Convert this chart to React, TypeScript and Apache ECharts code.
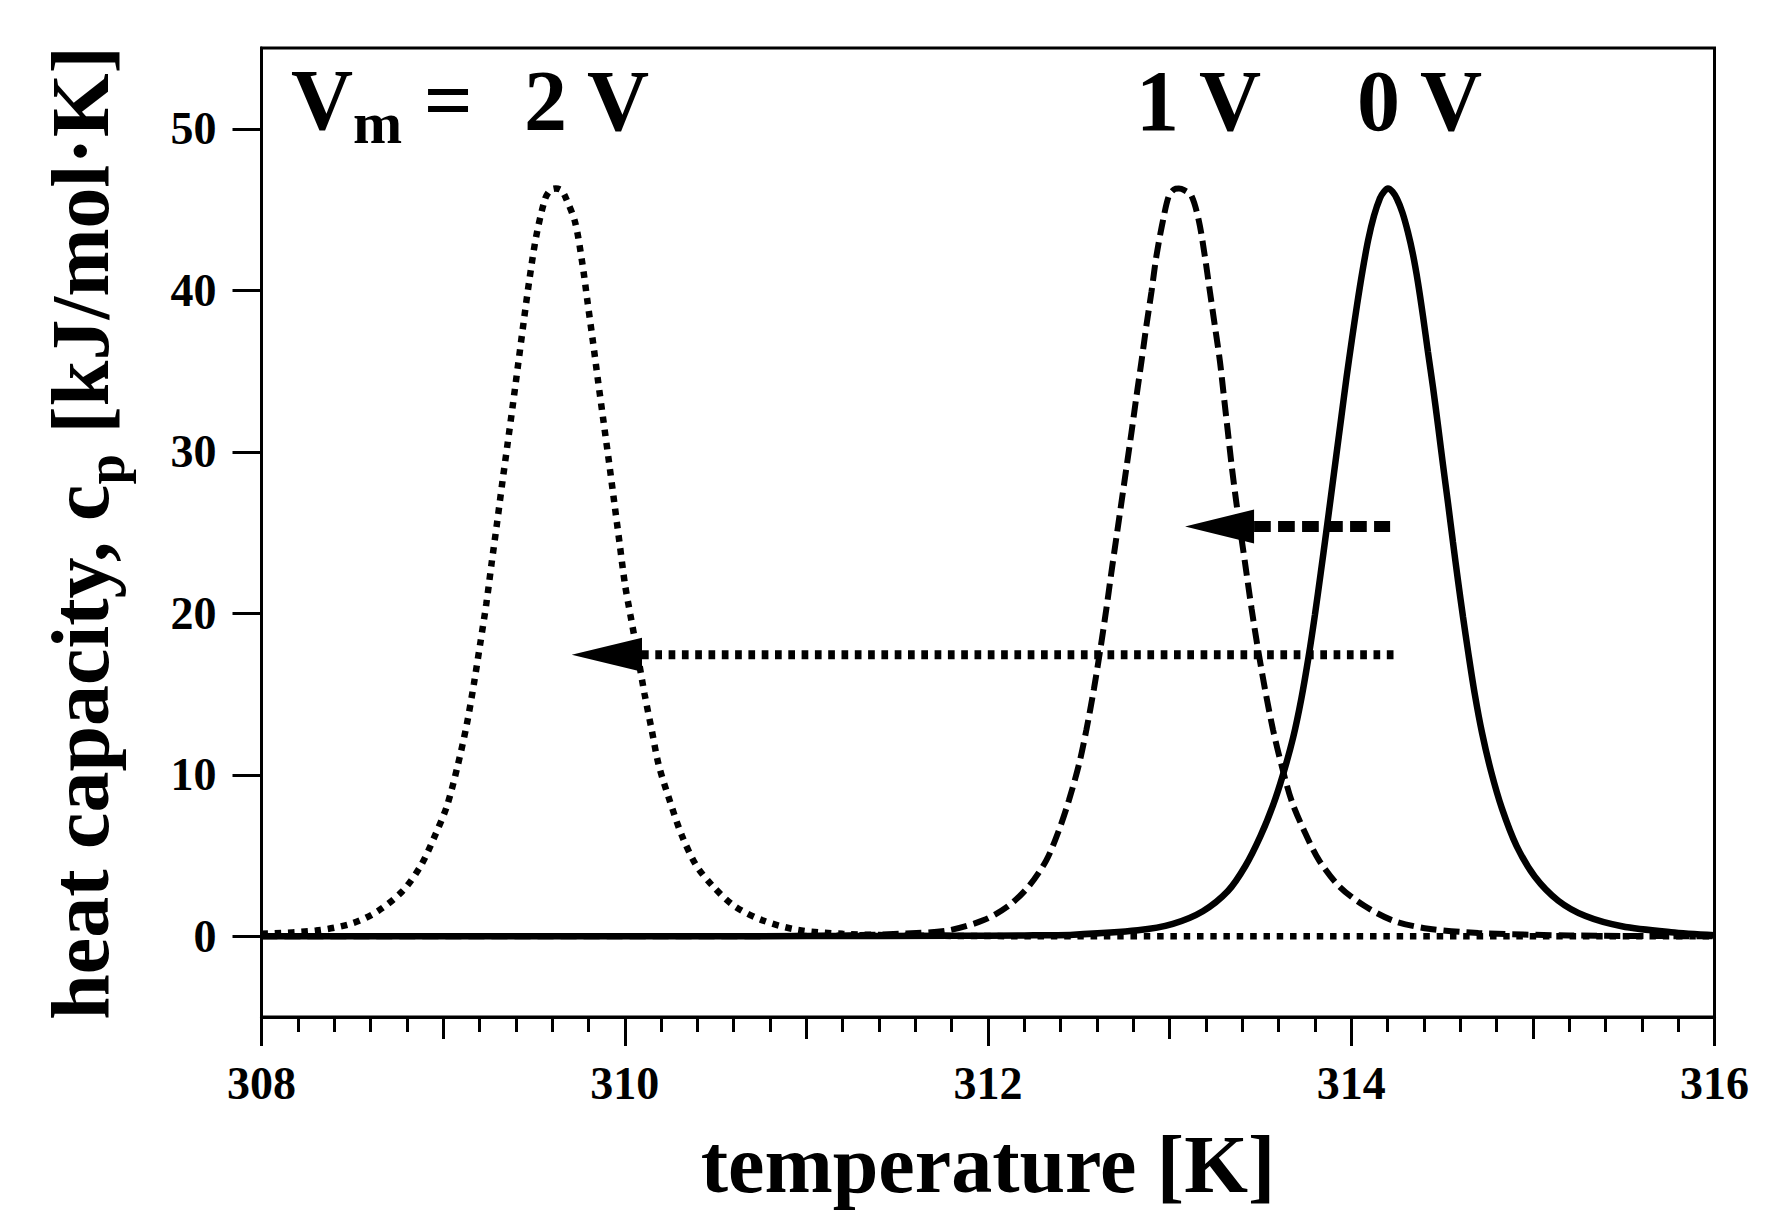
import React, { useEffect, useRef } from "react";
import * as echarts from "echarts";

// ---------- data ----------
const xMin = 308;
const xMax = 316;
const yMin = -5;
const yMax = 55;
const yTickValues = [0, 10, 20, 30, 40, 50];

// Vm = 0 V (solid)
const curve0V: [number, number][] = [
  [308, 0], [310, 0], [311, 0.01], [311.8, 0.03], [312.2, 0.05], [312.47, 0.1],
  [312.825, 0.37], [313.018, 0.77], [313.183, 1.55], [313.321, 2.8], [313.417, 4.35],
  [313.5, 6.2], [313.569, 8.1], [313.624, 10.0], [313.68, 12.3], [313.725, 14.7],
  [313.765, 17.3], [313.8, 19.9], [313.832, 22.5], [313.862, 25.0], [313.89, 27.4],
  [313.918, 29.8], [313.946, 32.2], [313.974, 34.6], [314.003, 36.9], [314.032, 39.1],
  [314.062, 41.2], [314.093, 43.1], [314.125, 44.6], [314.158, 45.7], [314.18, 46.1],
  [314.202, 46.3], [314.227, 46.1], [314.252, 45.65], [314.282, 44.8], [314.312, 43.6],
  [314.34, 42.2], [314.367, 40.5], [314.395, 38.4], [314.422, 36.2], [314.45, 34.0],
  [314.478, 31.6], [314.505, 29.2], [314.533, 26.8], [314.56, 24.4], [314.588, 22.0],
  [314.615, 19.8], [314.645, 17.5], [314.68, 15.0], [314.72, 12.6], [314.77, 10.2],
  [314.83, 7.9], [314.91, 5.6], [315.01, 3.7], [315.14, 2.2], [315.29, 1.25],
  [315.49, 0.62], [315.76, 0.25], [316, 0.06],
];

// Vm = 1 V (dashed)
const curve1V: [number, number][] = [
  [308, 0], [310.5, 0], [311.2, 0.05], [311.55, 0.17], [311.784, 0.37], [311.977, 1.0],
  [312.115, 1.9], [312.225, 3.1], [312.321, 4.7], [312.39, 6.55], [312.445, 8.4],
  [312.5, 10.6], [312.542, 12.8], [312.583, 15.3], [312.619, 17.8], [312.652, 20.3],
  [312.679, 22.5], [312.707, 24.7], [312.734, 26.8], [312.762, 29.0], [312.79, 31.2],
  [312.817, 33.4], [312.845, 35.6], [312.872, 37.8], [312.9, 39.9], [312.927, 42.1],
  [312.963, 44.3], [312.996, 45.85], [313.025, 46.25], [313.051, 46.3], [313.08, 46.2],
  [313.12, 45.85], [313.161, 44.3], [313.194, 42.1], [313.222, 39.9], [313.249, 37.8],
  [313.277, 35.6], [313.299, 33.4], [313.321, 31.2], [313.343, 29.0], [313.368, 26.8],
  [313.395, 24.7], [313.423, 22.5], [313.451, 20.3], [313.486, 17.8], [313.525, 15.3],
  [313.569, 12.8], [313.616, 10.6], [313.671, 8.4], [313.74, 6.55], [313.823, 4.7],
  [313.933, 3.1], [314.07, 1.9], [314.235, 0.95], [314.425, 0.47], [314.7, 0.2],
  [315.2, 0.05], [316, 0],
];

// Vm = 2 V (dotted)
const curve2V: [number, number][] = [
  [308, 0.15], [308.3, 0.35], [308.5, 0.8], [308.64, 1.55], [308.777, 2.8], [308.876, 4.35],
  [308.954, 6.2], [309.022, 8.1], [309.081, 10.6], [309.13, 13.1], [309.169, 15.6],
  [309.204, 18.1], [309.238, 20.6], [309.267, 23.1], [309.297, 25.6], [309.326, 28.1],
  [309.355, 30.5], [309.385, 33.0], [309.414, 35.5], [309.443, 38.0], [309.473, 40.5],
  [309.512, 43.3], [309.561, 45.65], [309.59, 46.2], [309.62, 46.3], [309.65, 46.2],
  [309.678, 45.65], [309.727, 44.2], [309.766, 41.7], [309.796, 39.2], [309.825, 36.8],
  [309.854, 34.3], [309.884, 31.8], [309.914, 29.3], [309.943, 26.8], [309.972, 24.3],
  [310.001, 21.8], [310.031, 19.9], [310.07, 17.5], [310.109, 15.0], [310.148, 12.8],
  [310.187, 10.6], [310.246, 8.45], [310.314, 6.25], [310.393, 4.4], [310.481, 3.15],
  [310.6, 1.9], [310.755, 1.0], [310.95, 0.4], [311.2, 0.15], [311.6, 0.04],
  [312.5, 0], [316, 0],
];

// arrows: shaft [start, end] and heads [tipT, value, baseT]
const arrow1VShaft: [number, number][] = [[313.465, 25.37], [314.214, 25.37]];
const arrow2VShaft: [number, number][] = [[310.095, 17.43], [314.236, 17.43]];
const arrowHeads: [number, number, number][] = [
  [313.085, 25.37, 313.465],
  [309.708, 17.43, 310.095],
];

// texts
const xTitle = "temperature [K]";
const yTitleMain = "heat capacity, c";
const yTitleSub = "p";
const yTitleEnd = " [kJ/mol·K]";
const vmMain = "V";
const vmSub = "m";
const vmEq = " =";
const label2V = "2 V";
const label1V = "1 V";
const label0V = "0 V";

const FONT = "'Liberation Serif', 'Times New Roman', serif";

export default function App() {
  const ref = useRef<HTMLDivElement>(null);

  useEffect(() => {
    if (!ref.current) return;
    const chart = echarts.init(ref.current, undefined, { renderer: "svg" });

    const axisLabelStyle = {
      color: "#000",
      fontSize: 46,
      lineHeight: 46,
      fontWeight: "bold" as const,
      fontFamily: FONT,
    };
    const black3 = { color: "#000", width: 3 };

    const option: any = {
      animation: false,
      backgroundColor: "#fff",
      grid: {
        left: 261.5,
        top: 48,
        width: 1453,
        height: 969,
        show: true,
        borderColor: "#000",
        borderWidth: 3,
        backgroundColor: "transparent",
        containLabel: false,
      },
      xAxis: [
        {
          type: "value",
          min: xMin,
          max: xMax,
          interval: 2,
          position: "bottom",
          axisLine: { show: true, onZero: false, lineStyle: black3 },
          axisTick: { show: true, inside: false, length: 29, lineStyle: black3 },
          minorTick: { show: true, splitNumber: 10, length: 15, lineStyle: black3 },
          splitLine: { show: false },
          minorSplitLine: { show: false },
          axisLabel: { ...axisLabelStyle, margin: 43 },
        },
        {
          type: "value",
          min: xMin,
          max: xMax,
          interval: 1,
          position: "bottom",
          axisLine: { show: false, onZero: false },
          axisTick: { show: true, inside: false, length: 22, lineStyle: black3 },
          splitLine: { show: false },
          axisLabel: { show: false },
        },
      ],
      yAxis: {
        type: "value",
        min: yMin,
        max: yMax,
        position: "left",
        axisLine: { show: true, onZero: false, lineStyle: black3 },
        axisTick: {
          show: true,
          inside: false,
          length: 29,
          lineStyle: black3,
          customValues: yTickValues,
        },
        splitLine: { show: false },
        axisLabel: { ...axisLabelStyle, margin: 45, customValues: yTickValues },
      },
      series: [
        {
          name: "0 V",
          type: "line",
          data: curve0V,
          smooth: 0.3,
          symbol: "none",
          silent: true,
          lineStyle: { color: "#000", width: 6.5, type: "solid" },
          z: 3,
        },
        {
          name: "1 V",
          type: "line",
          data: curve1V,
          smooth: 0.3,
          symbol: "none",
          silent: true,
          lineStyle: { color: "#000", width: 6, type: [16, 7] },
          z: 3,
        },
        {
          name: "2 V",
          type: "line",
          data: curve2V,
          smooth: 0.3,
          symbol: "none",
          silent: true,
          lineStyle: { color: "#000", width: 6.5, type: [6.5, 6.8] },
          z: 3,
        },
        {
          name: "arrow 1V",
          type: "line",
          data: arrow1VShaft,
          symbol: "none",
          silent: true,
          lineStyle: { color: "#000", width: 11, type: [16.7, 7.3], cap: "butt" },
          z: 4,
        },
        {
          name: "arrow 2V",
          type: "line",
          data: arrow2VShaft,
          symbol: "none",
          silent: true,
          lineStyle: { color: "#000", width: 9, type: [6.7, 6.6], cap: "butt" },
          z: 4,
        },
        {
          name: "arrow heads",
          type: "custom",
          data: arrowHeads,
          silent: true,
          z: 5,
          renderItem: (_params: any, api: any) => {
            const tip = api.coord([api.value(0), api.value(1)]);
            const base = api.coord([api.value(2), api.value(1)]);
            return {
              type: "polygon",
              shape: {
                points: [
                  [tip[0], tip[1]],
                  [base[0], base[1] - 17],
                  [base[0], base[1] + 17],
                ],
              },
              style: { fill: "#000" },
            };
          },
        },
      ],
      graphic: [
        {
          type: "text",
          x: 988,
          y: 1164,
          silent: true,
          style: {
            text: xTitle,
            fill: "#000",
            fontSize: 82,
            fontWeight: "bold",
            fontFamily: FONT,
            align: "center",
            verticalAlign: "middle",
          },
        },
        {
          type: "text",
          x: 80,
          y: 533,
          rotation: Math.PI / 2,
          silent: true,
          style: {
            text: `{a|${yTitleMain}}{s|${yTitleSub}}{a|${yTitleEnd}}`,
            fill: "#000",
            fontSize: 82,
            fontWeight: "bold",
            fontFamily: FONT,
            align: "center",
            verticalAlign: "middle",
            rich: {
              a: {
                fill: "#000",
                fontSize: 82,
                lineHeight: 82,
                fontWeight: "bold",
                fontFamily: FONT,
                verticalAlign: "middle",
              },
              s: {
                fill: "#000",
                fontSize: 55,
                lineHeight: 40,
                fontWeight: "bold",
                fontFamily: FONT,
                verticalAlign: "middle",
                padding: [50, 0, 0, 0],
              },
            },
          },
        },
        {
          type: "text",
          x: 291,
          y: 100,
          silent: true,
          style: {
            text: `{a|${vmMain}}{s|${vmSub}}{a|${vmEq}}`,
            fill: "#000",
            fontSize: 86,
            fontWeight: "bold",
            fontFamily: FONT,
            align: "left",
            verticalAlign: "middle",
            rich: {
              a: {
                fill: "#000",
                fontSize: 86,
                lineHeight: 86,
                fontWeight: "bold",
                fontFamily: FONT,
                verticalAlign: "middle",
              },
              s: {
                fill: "#000",
                fontSize: 59,
                lineHeight: 40,
                fontWeight: "bold",
                fontFamily: FONT,
                verticalAlign: "middle",
                padding: [46, 0, 0, 0],
              },
            },
          },
        },
        ...[
          { t: label2V, x: 524 },
          { t: label1V, x: 1136 },
          { t: label0V, x: 1357 },
        ].map((d) => ({
          type: "text",
          x: d.x,
          y: 101,
          silent: true,
          style: {
            text: d.t,
            fill: "#000",
            fontSize: 86,
            fontWeight: "bold",
            fontFamily: FONT,
            align: "left",
            verticalAlign: "middle",
          },
        })),
      ],
    };

    chart.setOption(option);
    return () => {
      chart.dispose();
    };
  }, []);

  return (
    <div
      ref={ref}
      style={{
        position: "fixed",
        left: 0,
        top: 0,
        width: 1776,
        height: 1231,
        background: "#fff",
      }}
    />
  );
}
